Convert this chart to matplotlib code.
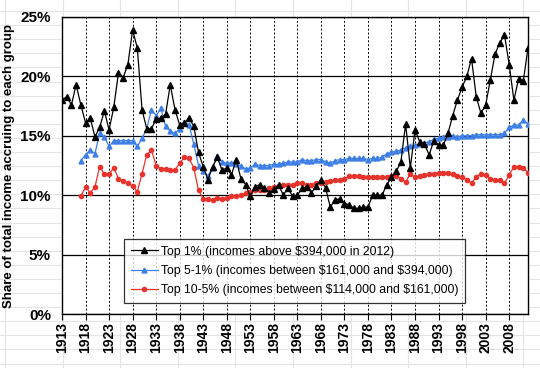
import numpy as np
import matplotlib
matplotlib.use('Agg')
import matplotlib.pyplot as plt

plt.rcParams['font.family'] = ['Liberation Sans', 'DejaVu Sans']

# Dados (participação na renda total, %)
anos_top1 = list(range(1913, 2013))
top1 = [
    18.0, 18.3, 17.6, 19.3, 17.6, 16.1, 16.5,                     # 1913-1919
    14.9, 15.7, 17.1, 15.5, 17.4, 20.3, 19.9, 21.0, 23.9, 22.4,   # 1920-1929
    17.2, 15.6, 15.6, 16.4, 16.5, 16.8, 19.3, 17.2, 15.9, 16.1,   # 1930-1939
    16.5, 15.8, 13.6, 12.4, 11.3, 12.4, 13.2, 12.1, 12.3, 11.7,   # 1940-1949
    13.0, 11.4, 10.9, 9.9, 10.7, 10.9, 10.6, 10.2, 10.5, 10.9,    # 1950-1959
    10.0, 10.6, 9.9, 10.0, 10.6, 10.7, 10.2, 10.8, 11.3, 10.6,    # 1960-1969
    9.0, 9.6, 9.7, 9.3, 9.2, 8.9, 8.9, 9.0, 9.0, 10.0,            # 1970-1979
    10.0, 10.0, 10.9, 11.5, 12.0, 12.8, 16.0, 12.3, 15.5, 14.5,   # 1980-1989
    14.3, 13.4, 14.6, 14.2, 14.2, 15.2, 16.7, 18.0, 19.1, 20.0,   # 1990-1999
    21.5, 18.3, 16.9, 17.6, 19.7, 21.9, 22.8, 23.5, 21.0, 18.0,   # 2000-2009
    19.8, 19.6, 22.4,                                             # 2010-2012
]

anos_outros = list(range(1917, 2013))
top5_1 = [
    12.9, 13.4, 13.8,                                             # 1917-1919
    13.5, 15.2, 14.9, 14.1, 14.6, 14.6, 14.6, 14.6, 14.6, 14.1,   # 1920-1929
    14.8, 15.6, 17.2, 16.7, 17.3, 15.8, 15.4, 15.2, 15.6, 16.2,   # 1930-1939
    15.9, 14.3, 12.5, 12.0, 11.6, 12.3, 13.3, 12.8, 12.7, 12.7,   # 1940-1949
    12.6, 12.5, 12.2, 12.3, 12.6, 12.5, 12.5, 12.5, 12.6, 12.6,   # 1950-1959
    12.7, 12.8, 12.8, 12.8, 13.0, 12.9, 12.9, 13.0, 13.0, 12.8,   # 1960-1969
    12.7, 12.9, 13.0, 13.0, 13.1, 13.1, 13.1, 13.1, 13.0, 13.1,   # 1970-1979
    13.1, 13.2, 13.5, 13.6, 13.7, 13.8, 14.0, 14.1, 14.2, 14.3,   # 1980-1989
    14.4, 14.5, 14.7, 14.8, 14.9, 14.9, 15.0, 14.9, 15.0, 15.0,   # 1990-1999
    15.0, 15.1, 15.1, 15.1, 15.1, 15.1, 15.1, 15.2, 15.7, 15.9,   # 2000-2009
    15.9, 16.3, 16.0,                                             # 2010-2012
]
top10_5 = [
    9.9, 10.7, 10.2,                                              # 1917-1919
    10.7, 12.4, 11.8, 11.8, 12.3, 11.4, 11.2, 11.0, 10.8, 10.3,   # 1920-1929
    11.8, 13.4, 13.8, 12.5, 12.2, 12.2, 12.1, 12.1, 12.7, 13.2,   # 1930-1939
    13.1, 12.3, 10.4, 9.7, 9.7, 9.6, 9.8, 9.7, 9.8, 9.9,          # 1940-1949
    9.9, 10.0, 10.2, 10.3, 10.4, 10.4, 10.4, 10.6, 10.7, 10.8,    # 1950-1959
    10.9, 10.9, 10.9, 11.0, 11.0, 10.9, 10.9, 11.0, 11.0, 11.1,   # 1960-1969
    11.2, 11.3, 11.3, 11.4, 11.6, 11.6, 11.6, 11.5, 11.5, 11.5,   # 1970-1979
    11.5, 11.5, 11.5, 11.6, 11.6, 11.4, 11.1, 11.8, 11.5, 11.6,   # 1980-1989
    11.7, 11.8, 11.8, 11.9, 11.9, 11.9, 11.8, 11.6, 11.5, 11.3,   # 1990-1999
    11.0, 11.5, 11.8, 11.7, 11.4, 11.3, 11.3, 11.0, 11.7, 12.4,   # 2000-2009
    12.4, 12.3, 11.9,                                             # 2010-2012
]

anos_ticks = list(range(1913, 2012, 5))
y_ticks = [0, 5, 10, 15, 20, 25]

legendas = [
    'Top 1% (incomes above \\$394,000 in 2012)',
    'Top 5-1% (incomes between \\$161,000 and \\$394,000)',
    'Top 10-5% (incomes between \\$114,000 and \\$161,000)',
]

fig = plt.figure(figsize=(5.4, 3.68), dpi=100)

# linhas da planilha ao fundo
for yy in np.arange(11, 368, 14.1):
    fig.add_artist(plt.Line2D([0, 1], [1 - yy / 368, 1 - yy / 368], color='#e4e4e4', lw=0.8, zorder=0))
for xx in np.arange(5, 540, 57.6):
    fig.add_artist(plt.Line2D([xx / 540, xx / 540], [0, 1], color='#e4e4e4', lw=0.8, zorder=0))

ax = fig.add_axes([62 / 540, 54 / 368, 466 / 540, 297 / 368])
ax.set_facecolor('white')
ax.set_zorder(2)

ax.plot(anos_top1, top1, color='black', lw=0.9, marker='^', ms=4.5, label=legendas[0], zorder=5)
ax.plot(anos_outros, top5_1, color='#3d7fe6', lw=0.9, marker='^', ms=3.5, label=legendas[1], zorder=4)
ax.plot(anos_outros, top10_5, color='#e8332c', lw=0.9, marker='o', ms=3, label=legendas[2], zorder=3)

ax.set_xlim(1913, 2012)
ax.set_ylim(0, 25)
ax.set_xticks(anos_ticks)
ax.set_xticklabels([str(a) for a in anos_ticks], rotation=90, fontsize=10, fontweight='bold')
ax.set_yticks(y_ticks)
ax.set_yticklabels([f'{v}%' for v in y_ticks], fontsize=11, fontweight='bold')
ax.tick_params(axis='x', length=4, width=0.8, pad=2)
ax.tick_params(axis='y', length=0, pad=8)

ax.grid(axis='y', color='black', lw=0.9)
ax.grid(axis='x', color='black', lw=0.7, linestyle=(0, (2, 2)))
ax.set_axisbelow(True)
for s in ax.spines.values():
    s.set_linewidth(1.0)

ax.set_ylabel('Share of total income accruing to each group', fontsize=9.5, fontweight='bold', labelpad=4)

leg = ax.legend(loc='lower left', bbox_to_anchor=(0.133, 0.037), fontsize=8.8, frameon=True,
                fancybox=False, edgecolor='black', handlelength=2.2, borderpad=0.55,
                labelspacing=0.6, handletextpad=0.3, borderaxespad=0)
leg.get_frame().set_linewidth(0.9)

plt.savefig('out.png', dpi=100)
